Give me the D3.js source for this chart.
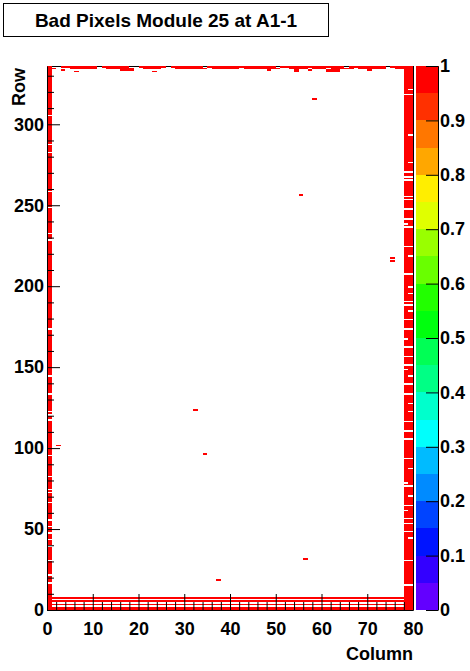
<!DOCTYPE html>
<html>
<head>
<meta charset="utf-8">
<script src="https://cdn.jsdelivr.net/npm/d3@7"></script>
<style>
body { margin: 0; background: #fff; }
svg text { font-family: 'Liberation Sans', Arial, Helvetica, sans-serif; font-weight: bold; }
</style>
</head>
<body>
<div id="vis"></div>
<script>

var title = 'Bad Pixels Module 25 at A1-1';
var nCols = 80;
var nRows = 336;
var pixelValue = 1;

// columns that are bad from bottom to top
var badColumns = [0, 78, 79];

// rows that are still fine inside those columns
var goodRowsCol0 = [305, 287, 282, 258, 248, 232, 228, 173, 144, 133, 122, 120, 117, 95, 82, 74, 72, 66, 55, 51, 47, 43, 39, 30, 21, 16];
var goodRowsCol78 = [318, 270, 267, 265, 255, 253, 247, 241, 238, 236, 224, 207, 190, 188, 179, 173, 167, 162, 156, 151, 148, 139, 133, 116, 110, 105, 93, 78, 76, 64, 61, 56, 53, 48, 30, 15];
var goodRowsCol79 = [321, 318, 293, 276, 270, 267, 265, 255, 253, 247, 241, 236, 224, 218, 207, 199, 195, 190, 188, 184, 179, 173, 162, 156, 151, 144, 139, 133, 127, 122, 116, 110, 105, 93, 87, 76, 70, 64, 56, 53, 48, 44, 30, 15];

// rows bad all the way across
var badRows = [0, 1, 3, 5, 7];

// ragged top edge: [row, first column, last column]
var topSegments = [
    [335, 3, 10], [335, 12, 17], [335, 20, 25], [335, 27, 33], [335, 35, 40],
    [335, 41, 49], [335, 51, 64], [335, 66, 73], [335, 75, 79],
    [334, 1, 1], [334, 5, 10], [334, 13, 18], [334, 21, 24], [334, 28, 34],
    [334, 36, 41], [334, 43, 50], [334, 53, 56], [334, 58, 60], [334, 62, 66],
    [334, 68, 73], [334, 76, 79],
    [333, 3, 3], [333, 16, 18], [333, 48, 48], [333, 54, 54], [333, 57, 57],
    [333, 61, 63], [333, 70, 70],
    [332, 6, 6], [332, 23, 23], [332, 54, 54], [332, 61, 63]
];

// lone bad pixels: [column, row]
var singlePixels = [[58, 315], [55, 256], [75, 217], [75, 215], [32, 123], [34, 96], [2, 101], [56, 31], [37, 18]];

var xTicks = [0, 10, 20, 30, 40, 50, 60, 70, 80];
var yTicks = [0, 50, 100, 150, 200, 250, 300];
var zTicks = [0, 0.1, 0.2, 0.3, 0.4, 0.5, 0.6, 0.7, 0.8, 0.9, 1];
var zTickLabels = ['0', '0.1', '0.2', '0.3', '0.4', '0.5', '0.6', '0.7', '0.8', '0.9', '1'];

var width = 470;
var height = 671;
var nContours = 20;

// collect every bad pixel once
function buildPixels() {
    var seen = {};
    var out = [];
    function add(c, r) {
        var key = c + ',' + r;
        if (seen[key]) return;
        seen[key] = true;
        out.push({ col: c, row: r, value: pixelValue });
    }
    var good = { 0: goodRowsCol0, 78: goodRowsCol78, 79: goodRowsCol79 };
    badColumns.forEach(function (c) {
        for (var r = 0; r < nRows; r++) {
            if (good[c].indexOf(r) < 0) add(c, r);
        }
    });
    badRows.forEach(function (r) {
        for (var c = 0; c < nCols; c++) add(c, r);
    });
    topSegments.forEach(function (s) {
        for (var c = s[1]; c <= s[2]; c++) add(c, s[0]);
    });
    singlePixels.forEach(function (p) { add(p[0], p[1]); });
    return out;
}

var pixels = buildPixels();

// ROOT pretty palette (50 colours violet->red), 20 contour levels picked out of it
var contourColors = d3.range(nContours).map(function (k) {
    var idx = Math.floor((k + 0.99) * 50 / nContours);
    return d3.hsl(280 - (idx + 1) * 5.6, 1, 0.5).formatHex();
});

var x = d3.scaleLinear().domain([0, nCols]).range([47, 413]);
var y = d3.scaleLinear().domain([0, nRows]).range([610, 66]);
var z = d3.scaleLinear().domain([0, 1]).range([610, 66]);
var color = d3.scaleQuantize().domain([0, 1]).range(contourColors);

var svg = d3.select('#vis').append('svg')
    .attr('width', width)
    .attr('height', height);

svg.append('rect')
    .attr('width', width).attr('height', height)
    .attr('fill', '#fff');

// title box
svg.append('rect')
    .attr('x', 3.5).attr('y', 3.5)
    .attr('width', 325).attr('height', 33)
    .attr('fill', '#fff')
    .attr('stroke', '#000');

svg.append('text')
    .attr('x', 166).attr('y', 27)
    .attr('text-anchor', 'middle')
    .style('font-size', '19px')
    .text(title);

// frame goes under the bins like in ROOT
svg.append('rect')
    .attr('x', 47.5).attr('y', 66.5)
    .attr('width', 366).attr('height', 543.5)
    .attr('fill', 'none')
    .attr('stroke', '#000');

svg.append('g').selectAll('rect')
    .data(pixels)
    .enter().append('rect')
    .attr('x', function (d) { return x(d.col); })
    .attr('y', function (d) { return y(d.row + 1); })
    .attr('width', function (d) { return x(d.col + 1) - x(d.col); })
    .attr('height', function (d) { return y(d.row) - y(d.row + 1); })
    .attr('fill', function (d) { return color(d.value); })
    .attr('shape-rendering', 'crispEdges');

// minor ticks first
var xMinor = d3.range(0, nCols + 1, 2).filter(function (v) { return v % 10 !== 0; });
var yMinor = d3.range(0, nRows + 1, 10).filter(function (v) { return v % 50 !== 0; });

svg.append('g')
    .attr('transform', 'translate(0,610)')
    .call(d3.axisBottom(x).tickValues(xMinor).tickSize(-8).tickSizeOuter(0).tickFormat(''))
    .call(function (g) { g.select('.domain').remove(); });

svg.append('g')
    .attr('transform', 'translate(47,0)')
    .call(d3.axisLeft(y).tickValues(yMinor).tickSize(-7).tickSizeOuter(0).tickFormat(''))
    .call(function (g) { g.select('.domain').remove(); });

var xAxis = svg.append('g')
    .attr('transform', 'translate(0,610)')
    .call(d3.axisBottom(x).tickValues(xTicks).tickSize(-16).tickSizeOuter(0).tickPadding(12));

var yAxis = svg.append('g')
    .attr('transform', 'translate(47,0)')
    .call(d3.axisLeft(y).tickValues(yTicks).tickSize(-13).tickSizeOuter(0).tickPadding(3));

[xAxis, yAxis].forEach(function (g) {
    g.selectAll('text').style('font-size', '18px').attr('fill', '#000');
    g.selectAll('line, path').attr('stroke', '#000');
});

// colour palette on the right
svg.append('g').selectAll('rect')
    .data(contourColors)
    .enter().append('rect')
    .attr('x', 416)
    .attr('width', 22.5)
    .attr('y', function (d, i) { return z((i + 1) / nContours); })
    .attr('height', function (d, i) { return z(i / nContours) - z((i + 1) / nContours); })
    .attr('fill', function (d) { return d; })
    .attr('shape-rendering', 'crispEdges');

var zAxis = svg.append('g')
    .attr('transform', 'translate(438,0)')
    .call(d3.axisRight(z).tickValues(zTicks).tickSize(-12).tickSizeOuter(0).tickPadding(2)
        .tickFormat(function (d, i) { return zTickLabels[i]; }));

zAxis.selectAll('text').style('font-size', '18px').attr('fill', '#000');
zAxis.selectAll('line, path').attr('stroke', '#000');

// axis titles
svg.append('text')
    .attr('x', 413).attr('y', 660)
    .attr('text-anchor', 'end')
    .style('font-size', '18px')
    .text('Column');

svg.append('text')
    .attr('transform', 'translate(25,68) rotate(-90)')
    .attr('text-anchor', 'end')
    .style('font-size', '18px')
    .text('Row');

</script>
</body>
</html>
